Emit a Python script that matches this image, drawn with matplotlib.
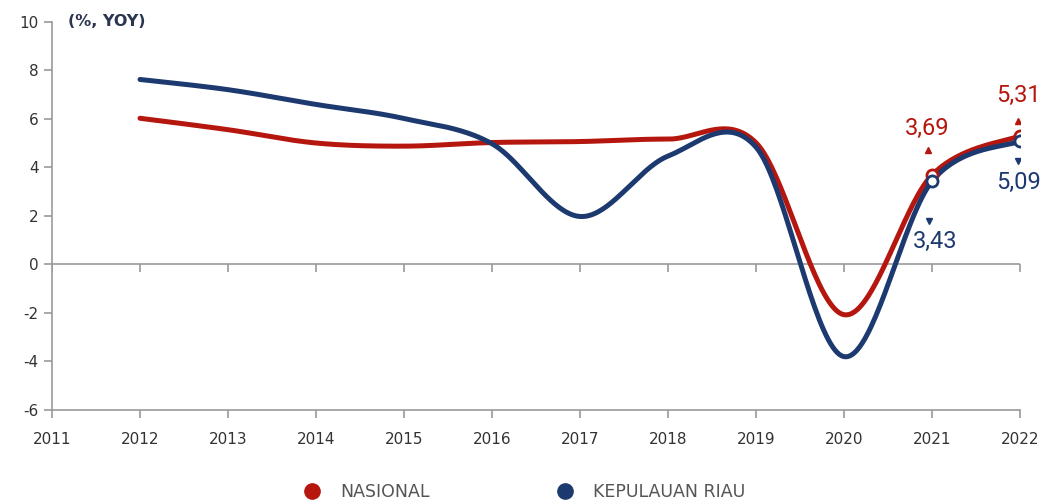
import numpy as np
import matplotlib.pyplot as plt
from matplotlib.lines import Line2D

plt.rcParams['axes.unicode_minus'] = False

# data
years = [2012, 2013, 2014, 2015, 2016, 2017, 2018, 2019, 2020, 2021, 2022]
nasional = [6.03, 5.56, 5.01, 4.88, 5.03, 5.07, 5.17, 5.02, -2.07, 3.69, 5.31]
kepri = [7.63, 7.21, 6.60, 6.02, 4.98, 1.98, 4.47, 4.84, -3.80, 3.43, 5.09]
tick_years = list(range(2011, 2023))
yticks = [-6, -4, -2, 0, 2, 4, 6, 8, 10]

red = '#B5170F'
navy = '#1D3A70'
grey = '#9A9A9A'
txt = '#333333'


def smooth(xs, ys, n=40):
    # excel-like smoothed line (catmull-rom bezier)
    x = np.array(xs, dtype=float)
    y = np.array(ys, dtype=float)
    px = np.concatenate([[x[0]], x, [x[-1]]])
    py = np.concatenate([[y[0]], y, [y[-1]]])
    ox, oy = [], []
    t = np.linspace(0, 1, n)
    for i in range(len(x) - 1):
        j = i + 1
        x0, y0 = px[j], py[j]
        x3, y3 = px[j + 1], py[j + 1]
        x1 = x0 + (px[j + 1] - px[j - 1]) / 6
        y1 = y0 + (py[j + 1] - py[j - 1]) / 6
        x2 = x3 - (px[j + 2] - px[j]) / 6
        y2 = y3 - (py[j + 2] - py[j]) / 6
        bx = (1-t)**3*x0 + 3*(1-t)**2*t*x1 + 3*(1-t)*t**2*x2 + t**3*x3
        by = (1-t)**3*y0 + 3*(1-t)**2*t*y1 + 3*(1-t)*t**2*y2 + t**3*y3
        ox.extend(bx)
        oy.extend(by)
    return np.array(ox), np.array(oy)


fig = plt.figure(figsize=(10.4, 5.01), dpi=100)
ax = fig.add_axes([52/1040, 1 - 410/501, 968/1040, 388/501])

ax.set_xlim(2011, 2022)
ax.set_ylim(-6, 10)

# zero line with downward ticks
ax.axhline(0, color=grey, lw=1.2, zorder=1)
ax.plot(tick_years, [0]*len(tick_years), ls='none', marker=3, ms=6,
        mew=1.2, color=grey, zorder=1)

sx, sy = smooth(years, nasional)
ax.plot(sx, sy, color=red, lw=3.6, solid_capstyle='round', zorder=3)
sx, sy = smooth(years, kepri)
ax.plot(sx, sy, color=navy, lw=3.6, solid_capstyle='round', zorder=4)

ax.plot(years[-2:], nasional[-2:], ls='none', marker='o', ms=8, mfc='white',
        mec=red, mew=2, zorder=5)
ax.plot(years[-2:], kepri[-2:], ls='none', marker='o', ms=8, mfc='white',
        mec=navy, mew=2, zorder=6)

# value labels
lab_font = dict(family=['Roboto', 'DejaVu Sans'], fontsize=17)
ax.text(2020.95, 5.6, '3,69', color=red, ha='center', va='center', **lab_font)
ax.plot([2020.95], [4.72], marker='^', ms=5, color=red)
ax.text(2021.98, 6.95, '5,31', color=red, ha='center', va='center', **lab_font)
ax.plot([2021.98], [5.9], marker='^', ms=5, color=red)
ax.text(2021.03, 0.95, '3,43', color=navy, ha='center', va='center', **lab_font)
ax.plot([2020.97], [1.78], marker='v', ms=5, color=navy)
ax.text(2021.98, 3.38, '5,09', color=navy, ha='center', va='center', **lab_font)
ax.plot([2021.98], [4.27], marker='v', ms=5, color=navy)

for s in ['top', 'right']:
    ax.spines[s].set_visible(False)
for s in ['left', 'bottom']:
    ax.spines[s].set_color(grey)
    ax.spines[s].set_linewidth(1.2)

ax.set_xticks(tick_years)
ax.set_yticks(yticks)
ax.tick_params(axis='both', colors=grey, labelcolor=txt, labelsize=11,
               length=6, width=1.2)
ax.tick_params(axis='x', pad=10)

ax.text(0.017, 1.0, '(%, YOY)', transform=ax.transAxes, fontsize=11.5,
        fontweight='bold', color='#2B3550', va='center', ha='left')

handles = [Line2D([], [], ls='none', marker='o', ms=11, color=red),
           Line2D([], [], ls='none', marker='o', ms=11, color=navy)]
fig.legend(handles, ['NASIONAL', 'KEPULAUAN RIAU'], loc='center',
           bbox_to_anchor=(0.5, 0.018), ncol=2, frameon=False,
           fontsize=12.5, labelcolor='#555555', columnspacing=6.8,
           handletextpad=0.6)

fig.savefig('out.png', dpi=100)
